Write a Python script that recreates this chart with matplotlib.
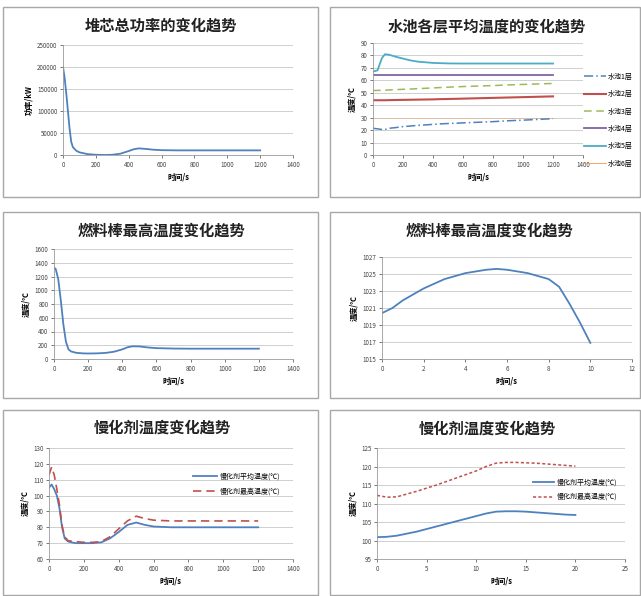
import matplotlib
matplotlib.use('Agg')
from matplotlib import pyplot as plt
from matplotlib.patches import Rectangle

plt.rcParams['font.family'] = ['Noto Sans CJK SC', 'DejaVu Sans']

W, H = 641, 596
blue = '#4F81BD'
red = '#C0504D'
green = '#9BBB59'
purple = '#8064A2'
aqua = '#4BACC6'
orange = '#F79646'

# panel 1: core power
t_power = [0, 10, 20, 30, 40, 50, 60, 80, 100, 150, 200, 250, 300, 350, 400, 430, 460, 500, 550,
           600, 700, 800, 900, 1000, 1100, 1200]
power = [200000, 175000, 140000, 100000, 60000, 30000, 18000, 10000, 6000, 2000, 500, 0, 500, 3000,
         9000, 13000, 15000, 14000, 12000, 11000, 10500, 10500, 10500, 10500, 10500, 10500]

# panel 2: pool layer temperatures
t_pool = [0, 30, 60, 80, 110, 150, 200, 250, 300, 350, 400, 450, 500, 600, 700, 800, 900, 1000, 1100, 1200]
layer1 = [21.5, 21, 20.5, 20.5, 21.5, 22, 22.8, 23.3, 23.8, 24.2, 24.6, 25, 25.3, 25.8, 26.3, 26.8,
          27.5, 28, 28.6, 29.2]
layer2 = [44, 44, 44, 44, 44.1, 44.2, 44.3, 44.4, 44.5, 44.6, 44.7, 44.9, 45, 45.3, 45.6, 45.9,
          46.2, 46.5, 46.8, 47.1]
layer3 = [51.8, 51.9, 52, 52.1, 52.3, 52.5, 52.8, 53, 53.3, 53.6, 53.9, 54.2, 54.5, 55, 55.4, 55.8,
          56.3, 56.7, 57.1, 57.5]
layer4 = [64.3] * 20
layer5 = [67, 68, 78, 81, 80.5, 79, 77.5, 76, 75, 74.5, 74, 73.8, 73.6, 73.5, 73.5, 73.5, 73.5,
          73.5, 73.5, 73.5]
layer6 = [30] * 20
pool_labels = ['水池1层', '水池2层', '水池3层', '水池4层', '水池5层', '水池6层']

# panel 3: fuel rod max temperature
t_rod = [0, 10, 25, 40, 55, 70, 85, 100, 130, 170, 200, 250, 300, 350, 400, 430, 460, 500, 550,
         600, 700, 800, 900, 1000, 1100, 1200]
rod = [1330, 1310, 1160, 850, 500, 250, 140, 110, 90, 82, 80, 82, 88, 105, 140, 170, 185, 183, 168,
       158, 152, 150, 150, 150, 150, 150]

# panel 4: fuel rod max temperature, first 10 s
t_rod2 = [0, 0.5, 1, 2, 3, 4, 5, 5.5, 6, 7, 8, 8.5, 9, 9.5, 10]
rod2 = [1020.4, 1021, 1021.9, 1023.3, 1024.4, 1025.1, 1025.5, 1025.6, 1025.5, 1025.1, 1024.4,
        1023.5, 1021.5, 1019.3, 1016.9]

# panel 5: moderator temperatures
t_mod = [0, 15, 30, 45, 60, 75, 90, 110, 150, 200, 250, 300, 350, 400, 450, 500, 550, 600, 700,
         800, 900, 1000, 1100, 1200]
mod_avg = [105, 107, 104, 100, 92, 80, 73, 71, 70, 70, 70, 70.5, 73, 77, 81.5, 83, 81.5, 80.5, 80,
           80, 80, 80, 80, 80]
mod_max = [113, 118, 113, 104, 94, 81, 74, 71.5, 71, 70.5, 70.5, 71, 74, 79, 84, 87, 85.5, 84.5,
           84, 84, 84, 84, 84, 84]
mod_labels = ['慢化剂平均温度(℃)', '慢化剂最高温度(℃)']

# panel 6: moderator temperatures, first 20 s
t_mod2 = [0, 1, 2, 4, 6, 8, 10, 11, 12, 13, 14, 15, 16, 17, 18, 19, 20]
mod2_avg = [100.9, 101.0, 101.3, 102.4, 103.8, 105.2, 106.6, 107.3, 107.8, 107.9, 107.9, 107.8,
            107.6, 107.4, 107.2, 107.0, 106.9]
mod2_max = [112.2, 111.7, 111.8, 113.3, 115.0, 116.9, 118.8, 120.0, 120.9, 121.1, 121.1, 121.0,
            120.9, 120.7, 120.5, 120.3, 120.1]

fig = plt.figure(figsize=(W / 100, H / 100), dpi=100)
fig.patch.set_facecolor('white')


def frame(l, t, r, b):
    fig.patches.append(Rectangle((l / W, 1 - b / H), (r - l) / W, (b - t) / H,
                                 transform=fig.transFigure, fill=False,
                                 edgecolor='#a8a8a8', linewidth=1.0))


def panel(l, t, r, b, title, tx, ty, xlim, xstep, ylim, ystep, ylabel, yfmt=None):
    ax = fig.add_axes([l / W, 1 - b / H, (r - l) / W, (b - t) / H])
    ax.set_xlim(*xlim)
    ax.set_ylim(*ylim)
    xt = list(range(xlim[0], xlim[1] + 1, xstep))
    yt = list(range(ylim[0], ylim[1] + 1, ystep))
    ax.set_xticks(xt)
    ax.set_yticks(yt)
    ax.tick_params(labelsize=4.5, colors='#444444', length=2, width=0.5, pad=2)
    ax.grid(axis='y', color='#c8c8c8', linewidth=0.6)
    ax.set_axisbelow(True)
    for s in ['top', 'right']:
        ax.spines[s].set_visible(False)
    for s in ['left', 'bottom']:
        ax.spines[s].set_color('#9a9a9a')
        ax.spines[s].set_linewidth(0.6)
    ax.set_xlabel('时间/s', fontsize=5.5, fontweight='bold', labelpad=3)
    ax.set_ylabel(ylabel, fontsize=5.5, fontweight='bold', labelpad=3)
    fig.text(tx / W, 1 - ty / H, title, fontsize=11, fontweight='bold', ha='center', va='center',
             color='#222222')
    return ax


frame(3, 7, 318, 197)
frame(330, 7, 640, 197)
frame(3, 212, 318, 398)
frame(330, 212, 640, 398)
frame(3, 410, 318, 595)
frame(330, 410, 640, 595)

ax1 = panel(63, 45, 293, 155, '堆芯总功率的变化趋势', 161, 26, (0, 1400), 200, (0, 250000), 50000,
            '功率/kW')
ax1.plot(t_power, power, color=blue, linewidth=1.3)

ax2 = panel(373, 43, 583, 155, '水池各层平均温度的变化趋势', 487, 27, (0, 1400), 200, (0, 90), 10,
            '温度/℃')
ax2.plot(t_pool, layer6, color=orange, linewidth=0.6, alpha=0.35, label=pool_labels[5])
ax2.plot(t_pool, layer1, color=blue, linewidth=1.1, linestyle=(0, (6, 2, 1, 2)), label=pool_labels[0])
ax2.plot(t_pool, layer2, color=red, linewidth=1.5, label=pool_labels[1])
ax2.plot(t_pool, layer3, color=green, linewidth=1.1, linestyle=(0, (5, 3)), label=pool_labels[2])
ax2.plot(t_pool, layer4, color=purple, linewidth=1.3, label=pool_labels[3])
ax2.plot(t_pool, layer5, color=aqua, linewidth=1.3, label=pool_labels[4])
handles, labels = ax2.get_legend_handles_labels()
order = [1, 2, 3, 4, 5, 0]
leg = ax2.legend([handles[i] for i in order], [labels[i] for i in order],
                 loc='upper left', bbox_to_anchor=(581 / W, 1 - 70 / H),
                 bbox_transform=fig.transFigure, frameon=False, fontsize=5,
                 handlelength=3.2, labelspacing=1.35, handletextpad=0.3, borderaxespad=0)
leg.get_lines()[5].set_alpha(1.0)

ax3 = panel(54, 249, 293, 359, '燃料棒最高温度变化趋势', 161, 231, (0, 1400), 200, (0, 1600), 200,
            '温度/℃')
ax3.plot(t_rod, rod, color=blue, linewidth=1.3)

ax4 = panel(382, 257, 632, 359, '燃料棒最高温度变化趋势', 489, 231, (0, 12), 2, (1015, 1027), 2,
            '温度/℃')
ax4.plot(t_rod2, rod2, color=blue, linewidth=1.3)

ax5 = panel(49, 448, 293, 559, '慢化剂温度变化趋势', 162, 428, (0, 1400), 200, (60, 130), 10,
            '温度/℃')
ax5.plot(t_mod, mod_avg, color=blue, linewidth=1.3, label=mod_labels[0])
ax5.plot(t_mod, mod_max, color=red, linewidth=1.2, linestyle=(0, (5, 3)), label=mod_labels[1])
ax5.legend(loc='upper left', bbox_to_anchor=(190 / W, 1 - 470 / H), bbox_transform=fig.transFigure,
           frameon=False, fontsize=5, handlelength=3.5, labelspacing=1.0, handletextpad=0.4,
           borderaxespad=0)

ax6 = panel(377, 448, 625, 559, '慢化剂温度变化趋势', 487, 429, (0, 25), 5, (95, 125), 5,
            '温度/℃')
ax6.plot(t_mod2, mod2_avg, color=blue, linewidth=1.3, label=mod_labels[0])
ax6.plot(t_mod2, mod2_max, color=red, linewidth=1.1, linestyle=(0, (2, 1.5)), label=mod_labels[1])
ax6.legend(loc='upper left', bbox_to_anchor=(530 / W, 1 - 476 / H), bbox_transform=fig.transFigure,
           frameon=False, fontsize=5, handlelength=3.0, labelspacing=0.9, handletextpad=0.4,
           borderaxespad=0)

fig.savefig('out.png', dpi=100, facecolor='white')
